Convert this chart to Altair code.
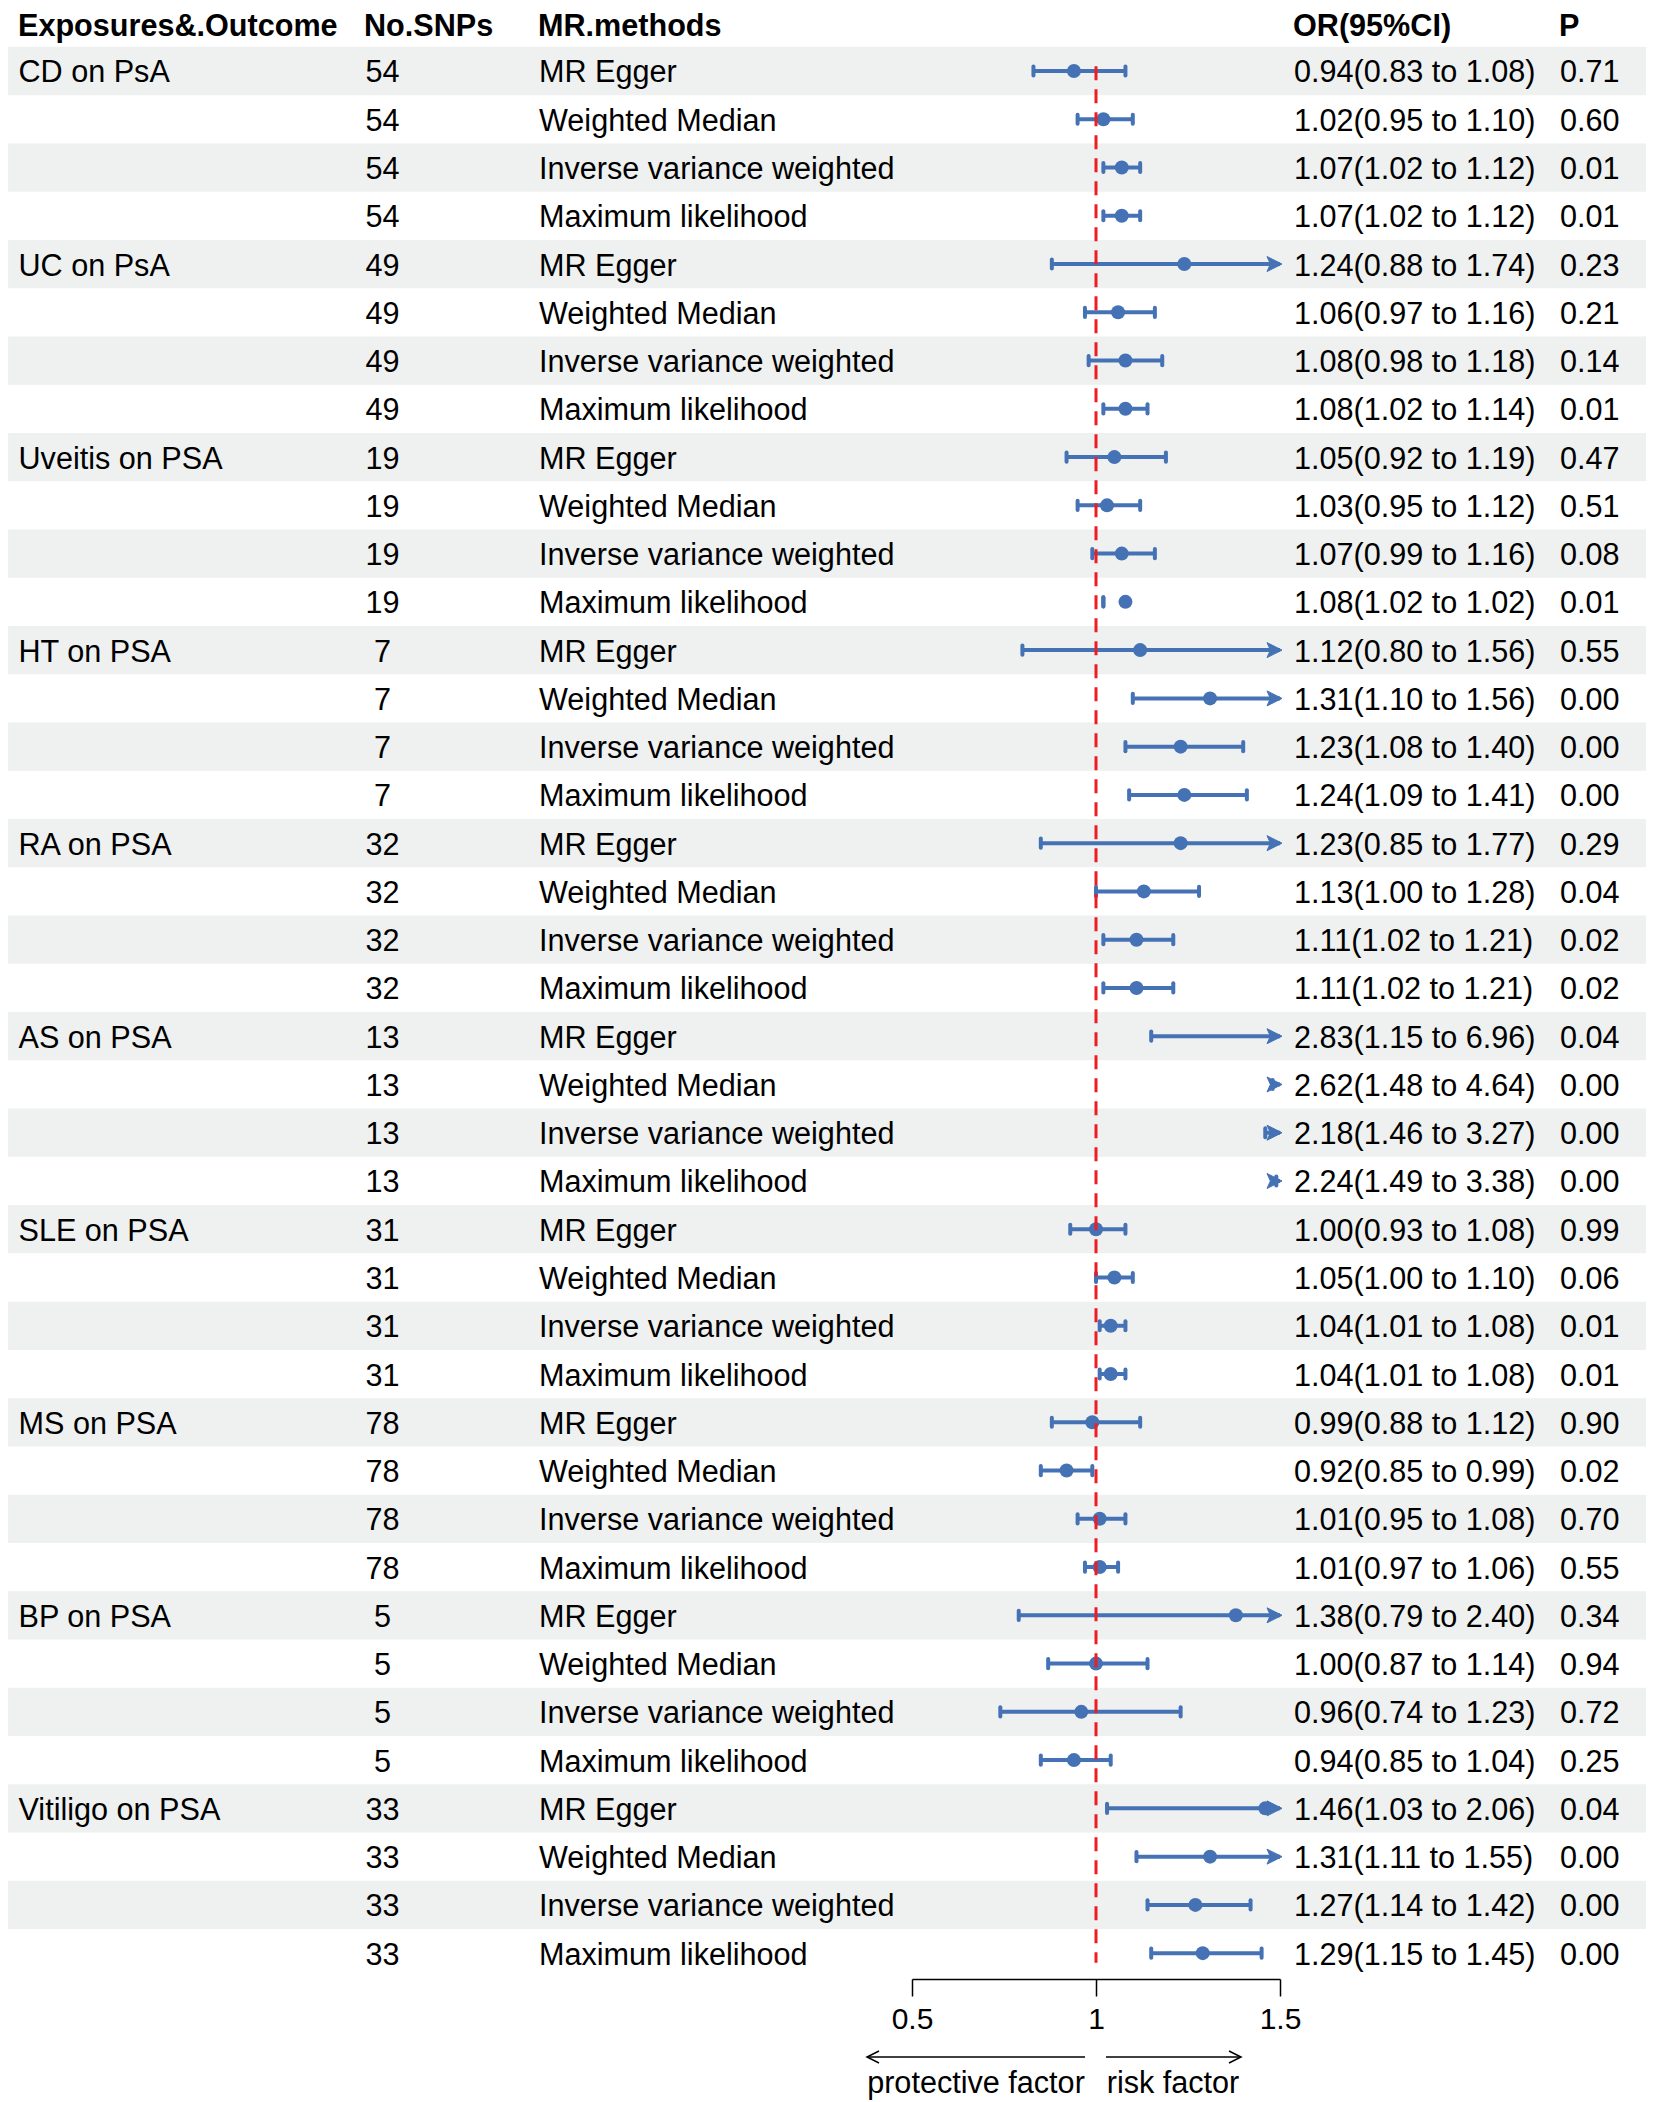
import altair as alt
import pandas as pd

# ---------------- data ----------------
groups = ["CD on PsA", "UC on PsA", "Uveitis on PSA", "HT on PSA", "RA on PSA",
          "AS on PSA", "SLE on PSA", "MS on PSA", "BP on PSA", "Vitiligo on PSA"]
group_snps = [54, 49, 19, 7, 32, 13, 31, 78, 5, 33]
methods = ["MR Egger", "Weighted Median", "Inverse variance weighted", "Maximum likelihood"]

or_est = [0.94, 1.02, 1.07, 1.07,
          1.24, 1.06, 1.08, 1.08,
          1.05, 1.03, 1.07, 1.08,
          1.12, 1.31, 1.23, 1.24,
          1.23, 1.13, 1.11, 1.11,
          2.83, 2.62, 2.18, 2.24,
          1.00, 1.05, 1.04, 1.04,
          0.99, 0.92, 1.01, 1.01,
          1.38, 1.00, 0.96, 0.94,
          1.46, 1.31, 1.27, 1.29]
or_low = [0.83, 0.95, 1.02, 1.02,
          0.88, 0.97, 0.98, 1.02,
          0.92, 0.95, 0.99, 1.02,
          0.80, 1.10, 1.08, 1.09,
          0.85, 1.00, 1.02, 1.02,
          1.15, 1.48, 1.46, 1.49,
          0.93, 1.00, 1.01, 1.01,
          0.88, 0.85, 0.95, 0.97,
          0.79, 0.87, 0.74, 0.85,
          1.03, 1.11, 1.14, 1.15]
or_high = [1.08, 1.10, 1.12, 1.12,
           1.74, 1.16, 1.18, 1.14,
           1.19, 1.12, 1.16, 1.02,
           1.56, 1.56, 1.40, 1.41,
           1.77, 1.28, 1.21, 1.21,
           6.96, 4.64, 3.27, 3.38,
           1.08, 1.10, 1.08, 1.08,
           1.12, 0.99, 1.08, 1.06,
           2.40, 1.14, 1.23, 1.04,
           2.06, 1.55, 1.42, 1.45]
p_vals = [0.71, 0.60, 0.01, 0.01,
          0.23, 0.21, 0.14, 0.01,
          0.47, 0.51, 0.08, 0.01,
          0.55, 0.00, 0.00, 0.00,
          0.29, 0.04, 0.02, 0.02,
          0.04, 0.00, 0.00, 0.00,
          0.99, 0.06, 0.01, 0.01,
          0.90, 0.02, 0.70, 0.55,
          0.34, 0.94, 0.72, 0.25,
          0.04, 0.00, 0.00, 0.00]

headers = ["Exposures&.Outcome", "No.SNPs", "MR.methods", "OR(95%CI)", "P"]
x_ticks = [0.5, 1, 1.5]
x_domain = [0.5, 1.5]
null_effect = [1.0]
direction_labels = ["protective factor", "risk factor"]

# ---------------- table ----------------
recs = []
for i in range(len(or_est)):
    g = i // 4
    m = i % 4
    lo, hi, est = or_low[i], or_high[i], or_est[i]
    recs.append({
        "row": i,
        "expo": groups[g] if m == 0 else "",
        "snps": str(group_snps[g]),
        "method": methods[m],
        "est": est,
        "lo": lo,
        "hi": hi,
        "lo_c": min(max(lo, x_domain[0]), x_domain[1]),
        "hi_c": min(max(hi, x_domain[0]), x_domain[1]),
        "ortext": f"{est:.2f}({lo:.2f} to {hi:.2f})",
        "ptext": f"{p_vals[i]:.2f}",
        "stripe": i % 2 == 0,
        "y0": i - 0.5,
        "y1": i + 0.5,
        "c0": i - 0.095,
        "c1": i + 0.095,
    })
df = pd.DataFrame(recs)

W = 1638
H = 1970
FONT = "Liberation Sans"
FS = 30.6
BLUE = "#4572B5"
RED = "#EE1D23"

yscale = alt.Scale(domain=[-1.3054, 39.515], reverse=True, nice=False, zero=False)
xscale = alt.Scale(domain=x_domain, range=[904, 1272], nice=False, zero=False)
xaxis = alt.Axis(values=x_ticks, format="~g", title=None, grid=False,
                 labelFont=FONT, labelFontSize=30, labelColor="black",
                 labelFlush=False, labelOverlap=False,
                 tickColor="black", domainColor="black", tickSize=17,
                 tickWidth=1.5, domainWidth=1.5, labelPadding=8, offset=1)

base = alt.Chart(df)

stripes = base.transform_filter("datum.stripe").mark_rect(color="#EEF1F0").encode(
    x=alt.value(0), x2=alt.value(W),
    y=alt.Y("y0:Q", scale=yscale, axis=None), y2="y1:Q")

def col_text(field, xpos, align="left"):
    return base.mark_text(font=FONT, fontSize=FS, align=align, baseline="alphabetic",
                          dy=11.5, color="black").encode(
        x=alt.value(xpos), y=alt.Y("row:Q", scale=yscale, axis=None),
        text=f"{field}:N")

t_expo = col_text("expo", 10.5)
t_snps = col_text("snps", 374.6, "center")
t_meth = col_text("method", 531)
t_or = col_text("ortext", 1286)
t_p = col_text("ptext", 1552)

hdr_layers = []
for h, hx in zip(headers, [10, 356, 530, 1285, 1551]):
    hdr_layers.append(
        alt.Chart(pd.DataFrame({"h": [h]})).mark_text(
            font=FONT, fontSize=FS, fontWeight="bold", align="left",
            baseline="alphabetic", color="black").encode(
            x=alt.value(hx), y=alt.value(28), text="h:N"))

ci_line = base.mark_rule(color=BLUE, strokeWidth=4).encode(
    x=alt.X("lo_c:Q", scale=xscale, axis=xaxis), x2="hi_c:Q",
    y=alt.Y("row:Q", scale=yscale, axis=None))

cap_lo = base.mark_rule(color=BLUE, strokeWidth=4, strokeCap="round").encode(
    x=alt.X("lo_c:Q", scale=xscale, axis=xaxis),
    y=alt.Y("c0:Q", scale=yscale, axis=None), y2="c1:Q")

cap_hi = base.transform_filter(f"datum.hi <= {x_domain[1]}").mark_rule(
    color=BLUE, strokeWidth=4, strokeCap="round").encode(
    x=alt.X("hi_c:Q", scale=xscale, axis=xaxis),
    y=alt.Y("c0:Q", scale=yscale, axis=None), y2="c1:Q")

arrow_head = base.transform_filter(f"datum.hi > {x_domain[1]}").mark_point(
    shape="M -1 -1 L 1 0 L -1 1 L -0.55 0 Z", filled=True, size=225,
    color=BLUE, stroke=BLUE, strokeWidth=1, strokeJoin="round", opacity=1,
    xOffset=-5.5).encode(
    x=alt.X("hi_c:Q", scale=xscale, axis=xaxis),
    y=alt.Y("row:Q", scale=yscale, axis=None))

points = base.transform_filter(f"datum.est <= {x_domain[1]}").mark_circle(
    color=BLUE, size=196, opacity=1).encode(
    x=alt.X("est:Q", scale=xscale, axis=xaxis),
    y=alt.Y("row:Q", scale=yscale, axis=None))

ref_df = pd.DataFrame({"x": null_effect, "ya": [-0.1], "yb": [39.2]})
ref_line = alt.Chart(ref_df).mark_rule(color=RED, strokeWidth=3, strokeDash=[14, 9]).encode(
    x=alt.X("x:Q", scale=xscale, axis=xaxis),
    y=alt.Y("ya:Q", scale=yscale, axis=None), y2="yb:Q")

one = pd.DataFrame({"k": [0]})
arr_left = alt.Chart(one).mark_rule(color="black", strokeWidth=1.5).encode(
    x=alt.value(859), x2=alt.value(1077), y=alt.value(2049))
arr_right = alt.Chart(one).mark_rule(color="black", strokeWidth=1.5).encode(
    x=alt.value(1098), x2=alt.value(1233), y=alt.value(2049))
head_left = alt.Chart(one).mark_point(shape="M 1 -1 L -1 0 L 1 1", filled=False,
                                      size=144, color="black", strokeWidth=1.5,
                                      opacity=1).encode(
    x=alt.value(865), y=alt.value(2049))
head_right = alt.Chart(one).mark_point(shape="M -1 -1 L 1 0 L -1 1", filled=False,
                                       size=144, color="black", strokeWidth=1.5,
                                       opacity=1).encode(
    x=alt.value(1227), y=alt.value(2049))
lab_left = alt.Chart(pd.DataFrame({"lab": [direction_labels[0]]})).mark_text(
    font=FONT, fontSize=FS, align="center", baseline="alphabetic", color="black").encode(
    x=alt.value(968), y=alt.value(2085), text="lab:N")
lab_right = alt.Chart(pd.DataFrame({"lab": [direction_labels[1]]})).mark_text(
    font=FONT, fontSize=FS, align="center", baseline="alphabetic", color="black").encode(
    x=alt.value(1165), y=alt.value(2085), text="lab:N")

chart = alt.layer(
    stripes, t_expo, t_snps, t_meth, t_or, t_p, *hdr_layers,
    ci_line, cap_lo, cap_hi, arrow_head, points, ref_line,
    arr_left, arr_right, head_left, head_right, lab_left, lab_right
).properties(
    width=W, height=H,
    autosize=alt.AutoSizeParams(type="none"),
    padding={"left": 0, "top": 0, "right": 0, "bottom": 124},
    background="white",
).configure_view(stroke=None)

chart.save("out.html", embed_options={"renderer": "svg", "actions": False})
